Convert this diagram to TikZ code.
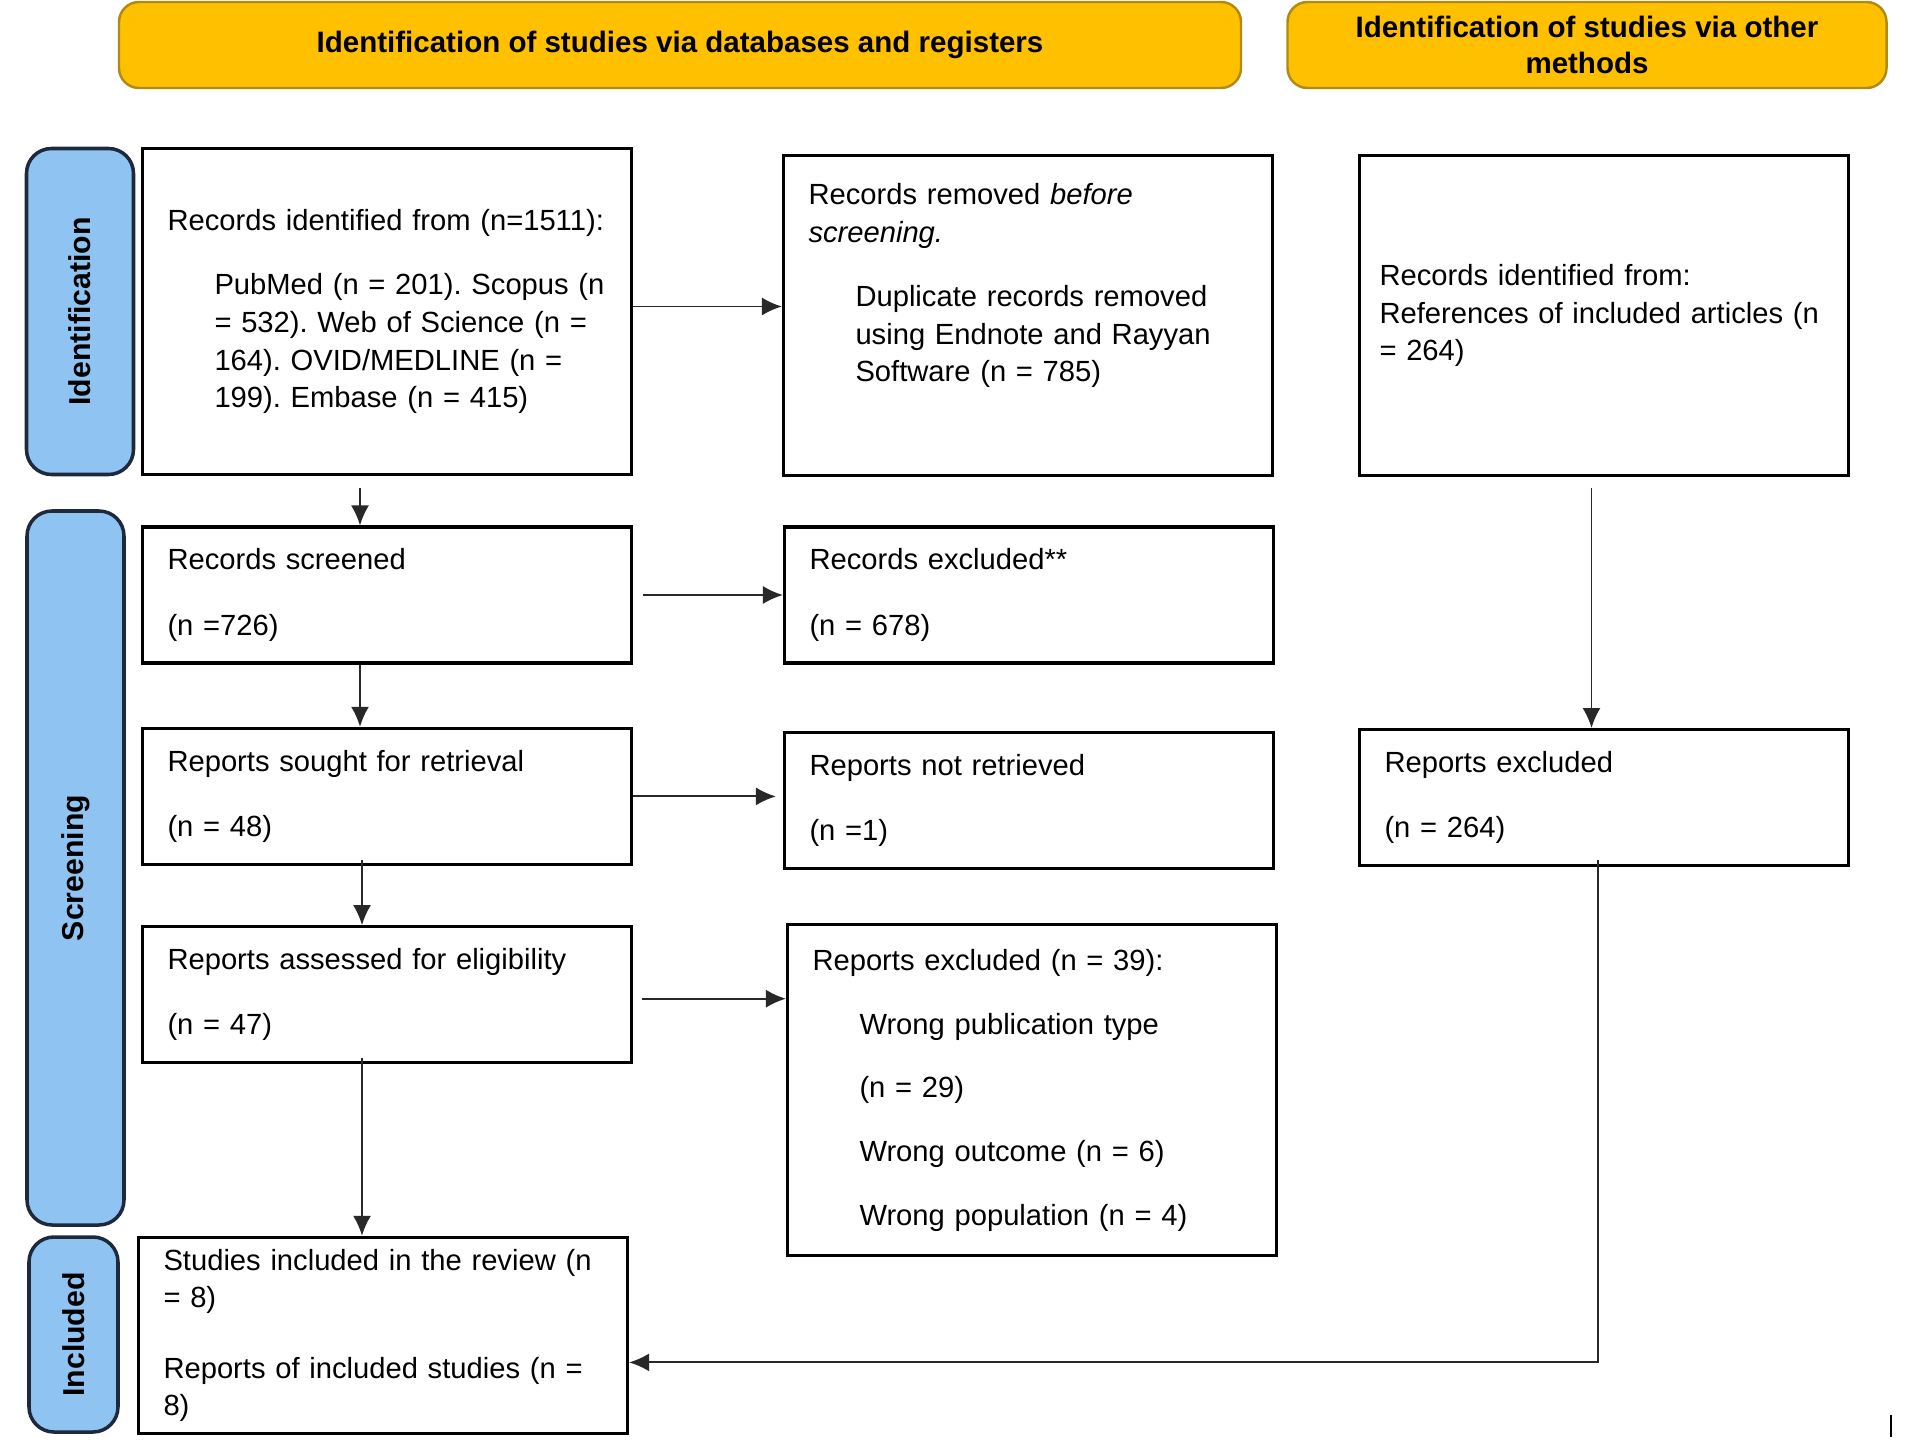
\documentclass[tikz,border=0pt]{standalone}
\usepackage{fontspec}
\setmainfont{Liberation Sans}
\usetikzlibrary{positioning,calc,arrows.meta}
\definecolor{phasegold}{RGB}{255,192,0}
\definecolor{phaseedge}{RGB}{176,138,20}
\definecolor{stageblue}{RGB}{143,196,242}
\definecolor{stageedge}{RGB}{30,42,60}
\definecolor{linkgray}{RGB}{40,40,40}
\tikzstyle{edge} = [-{Latex[length=2mm,width=1.8mm]}, draw=linkgray, line width=0.55pt]
\tikzstyle{box} = [draw=black, line width=0.9pt, align=left, inner xsep=0.25cm, text width=4.39cm, minimum height=1.36cm]
\tikzstyle{phase} = [draw=phaseedge, fill=phasegold, line width=0.7pt, rounded corners=0.2cm, align=center, minimum height=0.86cm, font=\fontsize{8.4}{10}\selectfont\bfseries]
\tikzstyle{stage} = [draw=stageedge, fill=stageblue, line width=1pt, rounded corners=0.25cm, rotate=90, font=\fontsize{8.6}{10}\selectfont\bfseries]
\newcommand{\subind}{\hspace*{0.47cm}}
\frenchspacing

\begin{document}
\begin{tikzpicture}
\tikzstyle{every node}=[font=\fontsize{8.3}{10.7}\selectfont]
	\useasboundingbox (0,0) rectangle (19.08,-14.41);

	% headers and phases
	\node[phase, minimum width=11.22cm] (dbhead) at (6.80,-0.45) {Identification of studies via databases and registers};
	\node[phase, minimum width=5.99cm] (otherhead) at (15.87,-0.45) {Identification of studies via other\\methods};
	\node[stage, minimum width=3.26cm, minimum height=1.07cm] (identification) at (0.80,-3.115) {Identification};
	\node[stage, minimum width=7.14cm, minimum height=0.97cm] (screening) at (0.755,-8.68) {Screening};
	\node[stage, minimum width=1.95cm, minimum height=0.89cm] (included) at (0.735,-13.345) {Included};

	% boxes
	\node[box, minimum height=3.26cm] (dbrec) at (3.87,-3.115) {Records identified from (n=1511):\\[7.6pt]
		\subind PubMed (n = 201). Scopus (n\\
		\subind = 532). Web of Science (n =\\
		\subind 164). OVID/MEDLINE (n =\\
		\subind 199). Embase (n = 415)};
	\node[box, minimum height=3.20cm] (removed) at (10.28,-3.158) {Records removed \textit{before}\\
		\textit{screening.}\\[7.6pt]
		\subind Duplicate records removed\\
		\subind using Endnote and Rayyan\\
		\subind Software (n = 785)\rule[-0.66cm]{0pt}{0.66cm}};
	\node[box, minimum height=3.20cm, inner xsep=0.2cm, text width=4.49cm] (otherrec) at (16.04,-3.158) {Records identified from:\\
		References of included articles (n\\
		= 264)};
	\node[box] (screened) at (3.87,-5.95) {Records screened\\[7.9pt] (n =726)};
	\node[box] (excluded) at (10.29,-5.95) {Records excluded**\\[7.9pt] (n = 678)};
	\node[box] (sought) at (3.87,-7.964) {Reports sought for retrieval\\[7.9pt] (n = 48)};
	\node[box] (notretrieved) at (10.29,-8.007) {Reports not retrieved\\[7.9pt] (n =1)};
	\node[box] (otherexcl) at (16.04,-7.976) {Reports excluded\\[7.9pt] (n = 264)};
	\node[box] (assessed) at (3.87,-9.947) {Reports assessed for eligibility\\[7.9pt] (n = 47)};
	\node[box, minimum height=3.31cm] (reasons) at (10.32,-10.903) {Reports excluded (n = 39):\\[7.4pt]
		\subind Wrong publication type\\[7.4pt]
		\subind (n = 29)\\[7.4pt]
		\subind Wrong outcome (n = 6)\\[7.4pt]
		\subind Wrong population (n = 4)};
	\node[box, minimum height=1.886cm] (studies) at (3.83,-13.354) {Studies included in the review (n\\
		= 8)\\[9.3pt]
		Reports of included studies (n =\\
		8)};

	% connectors
	\coordinate (assessedout) at ($(assessed.south)+(-0.25,0.06)$);
	\draw[edge]  ($(dbrec.east)+(0,0.05)$) -- ($(dbrec.east -| removed.west)+(0,0.05)$);
	\draw[edge]  ($(dbrec.south)+(-0.27,-0.12)$) -- ($(screened.north)+(-0.27,0)$);
	\draw[edge]  ($(screened.east)+(0.1,0)$) -- (excluded.west);
	\draw[edge]  ($(screened.south)+(-0.27,0)$) -- ($(sought.north)+(-0.27,0)$);
	\draw[edge]  (sought.east) -- ($(sought.east -| notretrieved.west)+(-0.07,0)$);
	\draw[edge]  ($(sought.south)+(-0.25,0.06)$) -- ($(assessed.north)+(-0.25,0)$);
	\draw[edge]  ($(assessed.east)+(0.09,-0.04)$) -- ($(assessed.east -| reasons.west)+(0,-0.04)$);
	\draw[edge]  (assessedout) -- (assessedout |- studies.north);
	\draw[edge]  ($(otherrec.south)+(-0.125,-0.11)$) -- ($(otherexcl.north)+(-0.125,0)$);
	\draw[edge]  ($(otherexcl.south)+(-0.06,0.07)$) |- ($(studies.east)+(0,-0.27)$);

	\draw[line width=0.5pt] (18.91,-14.15) -- (18.91,-14.37);
\end{tikzpicture}
\end{document}
